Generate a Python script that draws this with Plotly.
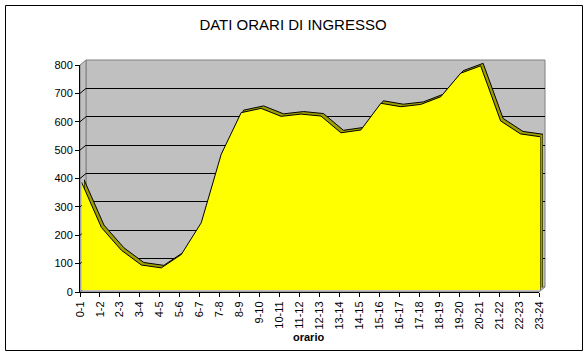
import plotly.graph_objects as go

# ---------------- data ----------------
categories = ["0-1", "1-2", "2-3", "3-4", "4-5", "5-6", "6-7", "7-8", "8-9", "9-10",
              "10-11", "11-12", "12-13", "13-14", "14-15", "15-16", "16-17", "17-18",
              "18-19", "19-20", "20-21", "21-22", "22-23", "23-24"]
values = [380, 220, 140, 88, 78, 125, 237, 478, 625, 640, 612, 620, 613, 554, 564,
          658, 646, 654, 681, 764, 790, 596, 550, 540]
y_ticks = [0, 100, 200, 300, 400, 500, 600, 700, 800]
title_text = "DATI ORARI DI INGRESSO"
x_title = "orario"

# ---------------- geometry helpers (pixels -> paper) ----------------
W, H = 586, 356
def fx(p):
    return p / W
def fy(p):
    return 1 - p / H

X0, X1 = 80, 539        # front plane: first / last category
Y0, YTOP = 292, 65      # front plane: value 0 / value 800
YMAX = y_ticks[-1]

def xdom(dx):
    return [fx(X0 + dx), fx(X1 + dx)]
def ydom(dy):
    return [fy(Y0 + dy), fy(YTOP + dy)]

WALL = (6, -5)      # depth of back wall
BACK = (4, -4.5)    # back edge of the series ribbon
FRONT = (1.5, -2)   # front face of the series

FONT = "Liberation Sans, Arial, sans-serif"
YELLOW = "#FFFF00"
OLIVE = "#9E9E00"
GREY = "#C0C0C0"
DGREY = "#808080"

fig = go.Figure()

# placeholder traces so every subplot (front axes, wall grid) is created
fig.add_trace(go.Scatter(x=categories, y=values, xaxis="x", yaxis="y", mode="lines",
                         line=dict(width=0, color="rgba(0,0,0,0)"),
                         showlegend=False, hoverinfo="skip"))
fig.add_trace(go.Scatter(x=categories, y=values, xaxis="x2", yaxis="y2", mode="lines",
                         line=dict(width=0, color="rgba(0,0,0,0)"),
                         showlegend=False, hoverinfo="skip"))

# top face / depth of the 3D area (back edge)
fig.add_trace(go.Scatter(
    x=[categories[0]] + categories + [categories[-1]],
    y=[0] + values + [0],
    xaxis="x3", yaxis="y3", mode="lines", fill="toself",
    fillcolor=OLIVE, line=dict(color="black", width=1),
    showlegend=False, hoverinfo="skip"))

# front face of the area
fig.add_trace(go.Scatter(
    x=[categories[0]] + categories + [categories[-1]],
    y=[0] + values + [0],
    xaxis="x4", yaxis="y4", mode="lines", fill="toself",
    fillcolor=YELLOW, line=dict(color=YELLOW, width=0),
    showlegend=False, hoverinfo="skip"))
fig.add_trace(go.Scatter(
    x=categories + [categories[-1]],
    y=values + [0],
    xaxis="x4", yaxis="y4", mode="lines",
    line=dict(color="black", width=1),
    showlegend=False, hoverinfo="skip"))

# ---------------- decoration shapes (walls, floor, border) ----------------
shapes = []
wx0, wx1 = X0 + WALL[0], X1 + WALL[0]
wy0, wy1 = Y0 + WALL[1], YTOP + WALL[1]
# back wall
shapes.append(dict(type="rect", xref="paper", yref="paper",
                   x0=fx(wx0), x1=fx(wx1), y0=fy(wy0), y1=fy(wy1),
                   fillcolor=GREY, line=dict(color=DGREY, width=1), layer="below"))
# side wall
shapes.append(dict(type="path", xref="paper", yref="paper",
                   path=f"M {fx(X0)} {fy(Y0)} L {fx(X0)} {fy(YTOP)} L {fx(wx0)} {fy(wy1)} "
                        f"L {fx(wx0)} {fy(wy0)} Z",
                   fillcolor=GREY, line=dict(color=DGREY, width=1), layer="below"))
# floor
shapes.append(dict(type="path", xref="paper", yref="paper",
                   path=f"M {fx(X0)} {fy(Y0)} L {fx(X1)} {fy(Y0)} L {fx(wx1)} {fy(wy0)} "
                        f"L {fx(wx0)} {fy(wy0)} Z",
                   fillcolor=GREY, line=dict(color=DGREY, width=1), layer="below"))
# gridline continuations on the side wall
scale = (Y0 - YTOP) / YMAX
for v in y_ticks[1:-1]:
    yp = Y0 - v * scale
    shapes.append(dict(type="line", xref="paper", yref="paper",
                       x0=fx(X0), x1=fx(wx0), y0=fy(yp), y1=fy(yp + WALL[1]),
                       line=dict(color="black", width=1), layer="below"))
# outer chart border
shapes.append(dict(type="rect", xref="paper", yref="paper",
                   x0=fx(5.5), x1=fx(582.5), y0=fy(350.5), y1=fy(5.5),
                   line=dict(color="black", width=1), fillcolor="rgba(0,0,0,0)",
                   layer="above"))

hidden = dict(visible=False, type="category", fixedrange=True)

fig.update_layout(
    width=W, height=H,
    margin=dict(l=0, r=0, t=0, b=0, pad=0),
    paper_bgcolor="white", plot_bgcolor="rgba(0,0,0,0)",
    font=dict(family=FONT, size=11, color="black"),
    showlegend=False,
    title=dict(text=title_text, x=0.5, xanchor="center", xref="paper",
               y=fy(25), yanchor="middle", yref="paper",
               font=dict(family=FONT, size=15, color="black")),
    xaxis=dict(domain=xdom(0), range=[0, len(categories) - 1], type="category",
               categoryorder="array", categoryarray=categories,
               tickangle=-90, ticks="outside", ticklen=4, tickcolor="black",
               showline=True, linecolor="black", linewidth=1, showgrid=False,
               zeroline=False, anchor="y", automargin=False, fixedrange=True,
               tickfont=dict(size=11)),
    yaxis=dict(domain=ydom(0), range=[0, YMAX], tickvals=y_ticks,
               ticks="outside", ticklen=4, tickcolor="black",
               showline=True, linecolor="black", linewidth=1, showgrid=False,
               zeroline=False, anchor="x", automargin=False, fixedrange=True,
               tickfont=dict(size=11)),
    xaxis2=dict(domain=xdom(WALL[0]), range=[0, len(categories) - 1],
                anchor="y2", categoryorder="array", categoryarray=categories, **hidden),
    yaxis2=dict(domain=ydom(WALL[1]), range=[0, YMAX], tickvals=y_ticks[1:-1],
                showgrid=True, gridcolor="black", gridwidth=1, showticklabels=False,
                ticks="", showline=False, zeroline=False, anchor="x2",
                fixedrange=True),
    xaxis3=dict(domain=xdom(BACK[0]), range=[0, len(categories) - 1],
                anchor="y3", categoryorder="array", categoryarray=categories, **hidden),
    yaxis3=dict(domain=ydom(BACK[1]), range=[0, YMAX], visible=False, anchor="x3",
                fixedrange=True),
    xaxis4=dict(domain=xdom(FRONT[0]), range=[0, len(categories) - 1],
                anchor="y4", categoryorder="array", categoryarray=categories, **hidden),
    yaxis4=dict(domain=ydom(FRONT[1]), range=[0, YMAX], visible=False, anchor="x4",
                fixedrange=True),
    shapes=shapes,
    annotations=[dict(text=f"<b>{x_title}</b>", xref="paper", yref="paper",
                      x=fx(308), y=fy(337), xanchor="center", yanchor="middle",
                      showarrow=False, font=dict(family=FONT, size=11, color="black"))],
)

fig.write_html("out.html", config=dict(displayModeBar=False))
